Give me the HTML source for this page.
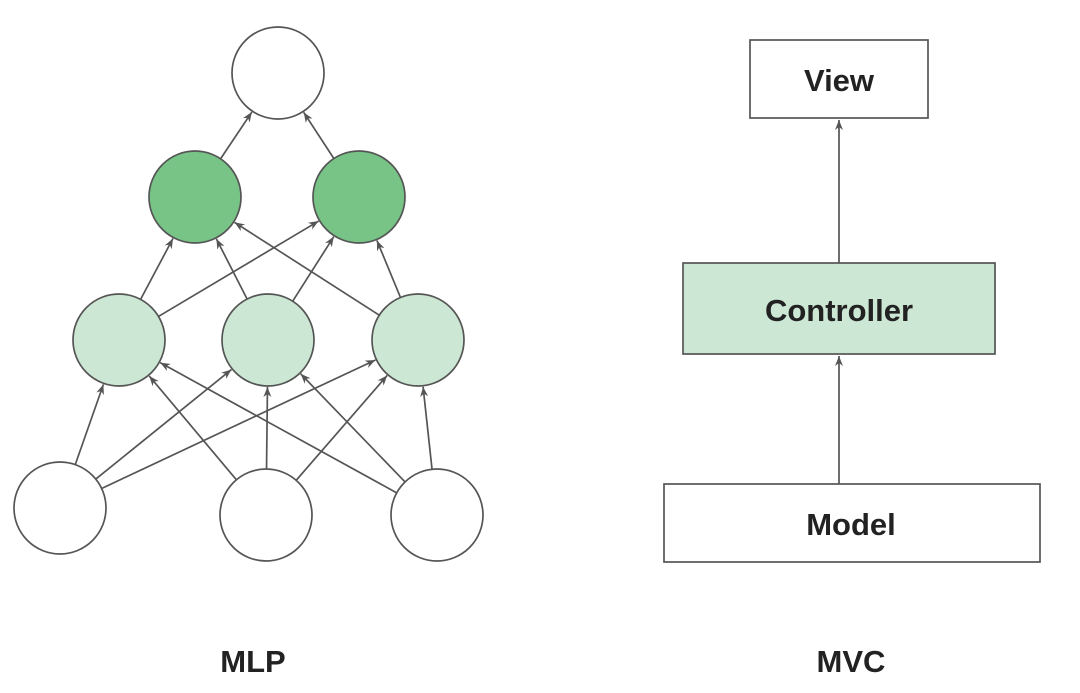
<!DOCTYPE html>
<html><head><meta charset="utf-8"><style>
html,body{margin:0;padding:0;background:#fff;width:1080px;height:693px;overflow:hidden}
text{font-family:"Liberation Sans",sans-serif;font-weight:bold;fill:#222}
</style></head><body>
<svg width="1080" height="693" viewBox="0 0 1080 693" xmlns="http://www.w3.org/2000/svg">
<defs><marker id="a" viewBox="0 0 10 10" refX="10" refY="5" markerWidth="10" markerHeight="10" orient="auto" markerUnits="userSpaceOnUse"><path d="M0,1 L10,5 L0,9 L3,5 z" fill="#555"/></marker></defs>
<g id="edges" stroke="#555" stroke-width="1.7" fill="none" marker-end="url(#a)"></g>
<g stroke="#555" stroke-width="1.7">
<circle cx="278" cy="73" r="46" fill="#fff"/>
<circle cx="195" cy="197" r="46" fill="#77c486"/>
<circle cx="359" cy="197" r="46" fill="#77c486"/>
<circle cx="119" cy="340" r="46" fill="#cce8d4"/>
<circle cx="268" cy="340" r="46" fill="#cce8d4"/>
<circle cx="418" cy="340" r="46" fill="#cce8d4"/>
<circle cx="60" cy="508" r="46" fill="#fff"/>
<circle cx="266" cy="515" r="46" fill="#fff"/>
<circle cx="437" cy="515" r="46" fill="#fff"/>
<rect x="750" y="40" width="178" height="78" fill="#fff"/>
<rect x="683" y="263" width="312" height="91" fill="#cce8d4"/>
<rect x="664" y="484" width="376" height="78" fill="#fff"/>
<line x1="839" y1="263" x2="839" y2="120" marker-end="url(#a)"/>
<line x1="839" y1="484" x2="839" y2="356" marker-end="url(#a)"/>
</g>
<text x="839" y="91" font-size="31" text-anchor="middle">View</text>
<text x="839" y="321" font-size="31" text-anchor="middle">Controller</text>
<text x="851" y="535" font-size="31" text-anchor="middle">Model</text>
<text x="253" y="672" font-size="31" text-anchor="middle">MLP</text>
<text x="851" y="672" font-size="31" text-anchor="middle">MVC</text>
</svg>
<script>
var N={t:[278,73],d0:[195,197],d1:[359,197],l0:[119,340],l1:[268,340],l2:[418,340],b0:[60,508],b1:[266,515],b2:[437,515]};
var E=[["d0","t"],["d1","t"],["l0","d0"],["l0","d1"],["l1","d0"],["l1","d1"],["l2","d0"],["l2","d1"],
["b0","l0"],["b0","l1"],["b0","l2"],["b1","l0"],["b1","l1"],["b1","l2"],["b2","l0"],["b2","l1"],["b2","l2"]];
var g=document.getElementById("edges"),r=46,s="";
E.forEach(function(e){var a=N[e[0]],b=N[e[1]],dx=b[0]-a[0],dy=b[1]-a[1],L=Math.hypot(dx,dy),ux=dx/L,uy=dy/L;
s+='<line x1="'+(a[0]+ux*r)+'" y1="'+(a[1]+uy*r)+'" x2="'+(b[0]-ux*(r+1))+'" y2="'+(b[1]-uy*(r+1))+'"/>';});
g.innerHTML=s;
</script>
</body></html>
